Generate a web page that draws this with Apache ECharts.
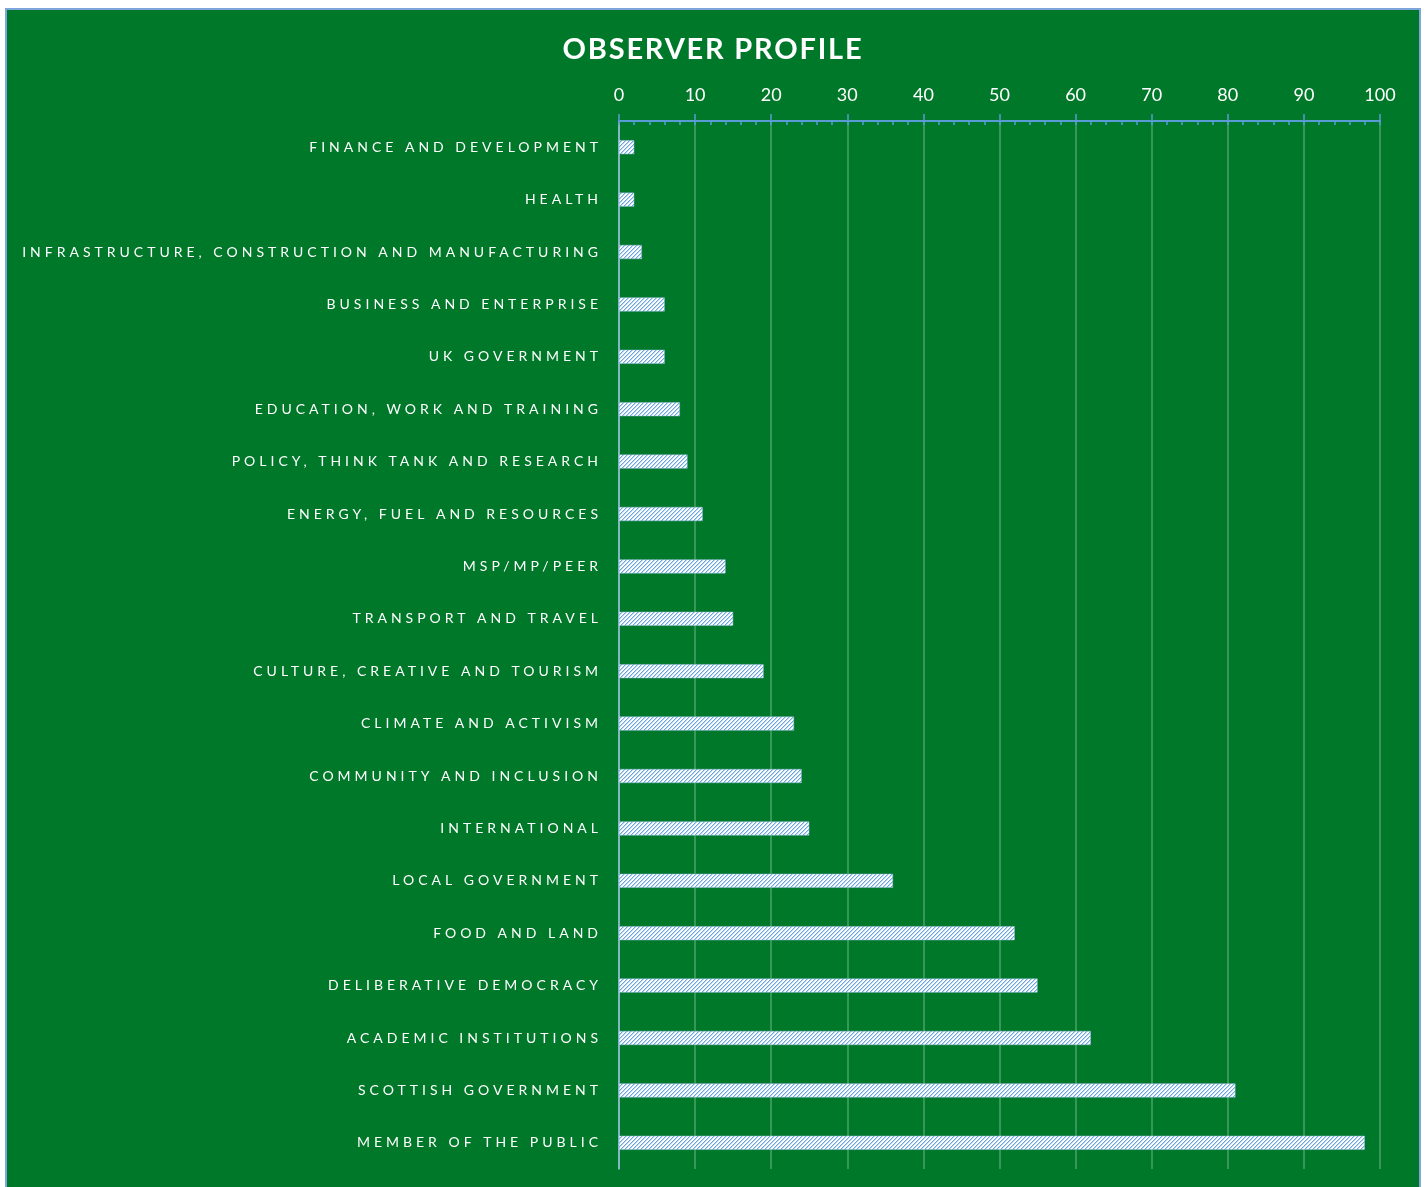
<!DOCTYPE html>
<html>
<head>
<meta charset="utf-8">
<script src="https://cdn.jsdelivr.net/npm/echarts@6/dist/echarts.min.js"></script>
<style>
  html, body { margin: 0; padding: 0; background: #ffffff; width: 1426px; height: 1187px; overflow: hidden; }
  #frame { position: absolute; left: 5px; top: 8px; width: 1412px; height: 1179px;
           border-left: 2px solid #7ea6dc; border-top: 2px solid #7ea6dc; border-right: 2px solid #7ea6dc; background: #00782a; }
  #chart { width: 1412px; height: 1177px; }
</style>
</head>
<body>
<div id="frame"><div id="chart"></div></div>
<script>
const titleText = 'OBSERVER PROFILE';
const categories = [
  'FINANCE AND DEVELOPMENT',
  'HEALTH',
  'INFRASTRUCTURE, CONSTRUCTION AND MANUFACTURING',
  'BUSINESS AND ENTERPRISE',
  'UK GOVERNMENT',
  'EDUCATION, WORK AND TRAINING',
  'POLICY, THINK TANK AND RESEARCH',
  'ENERGY, FUEL AND RESOURCES',
  'MSP/MP/PEER',
  'TRANSPORT AND TRAVEL',
  'CULTURE, CREATIVE AND TOURISM',
  'CLIMATE AND ACTIVISM',
  'COMMUNITY AND INCLUSION',
  'INTERNATIONAL',
  'LOCAL GOVERNMENT',
  'FOOD AND LAND',
  'DELIBERATIVE DEMOCRACY',
  'ACADEMIC INSTITUTIONS',
  'SCOTTISH GOVERNMENT',
  'MEMBER OF THE PUBLIC'
];
const values = [2, 2, 3, 6, 6, 8, 9, 11, 14, 15, 19, 23, 24, 25, 36, 52, 55, 62, 81, 98];
const axisMin = 0, axisMax = 100, axisStep = 10, minorStep = 2;

// letter-spaced labels (canvas letterSpacing; font re-assigned so Chrome applies it)
const spaced = new Set(categories);
const spacingFor = (t) => spaced.has(t) ? '4px' : (t === titleText ? '1.8px' : '0px');
const origFill = CanvasRenderingContext2D.prototype.fillText;
CanvasRenderingContext2D.prototype.fillText = function (t, x, y, w) {
  const f = this.font;
  const want = spacingFor(t);
  if (this.letterSpacing !== want) { this.letterSpacing = want; this.font = f; }
  if (w === undefined) origFill.call(this, t, x, y); else origFill.call(this, t, x, y, w);
  if (want !== '0px') { this.letterSpacing = '0px'; this.font = f; }
};

// hatch pattern (wide upward diagonal)
const pc = document.createElement('canvas');
pc.width = 8; pc.height = 8;
const px = pc.getContext('2d');
px.fillStyle = '#ffffff';
px.fillRect(0, 0, 8, 8);
for (let x = 0; x < 8; x++) {
  for (let y = 0; y < 8; y++) {
    const m = (x + y) % 4;
    if (m === 0) { px.fillStyle = '#6aa5e0'; px.fillRect(x, y, 1, 1); }
    else if (m === 1) { px.fillStyle = '#bcd7f2'; px.fillRect(x, y, 1, 1); }
  }
}

const FONT = 'Lato, "Open Sans", sans-serif';
const chart = echarts.init(document.getElementById('chart'), null, { renderer: 'canvas' });
chart.setOption({
  animation: false,
  backgroundColor: '#00782a',
  title: {
    text: titleText, left: 'center', top: 20,
    textStyle: { color: '#ffffff', fontSize: 29, fontWeight: 'bold', fontFamily: FONT }
  },
  grid: { left: 612, top: 111, width: 761, height: 1048, containLabel: false },
  xAxis: [{
    type: 'value', position: 'top', min: axisMin, max: axisMax, interval: axisStep,
    axisLine: { show: true, lineStyle: { color: '#5b9bd5', width: 2 } },
    axisTick: { show: true, length: 7, lineStyle: { color: '#5b9bd5', width: 1.5 } },
    axisLabel: { color: '#ffffff', fontSize: 18, fontFamily: FONT, margin: 17 },
    splitLine: { show: true, lineStyle: { color: 'rgba(255,255,255,0.3)', width: 1.5 } }
  }, {
    type: 'value', position: 'top', min: axisMin, max: axisMax, interval: minorStep,
    axisLine: { show: false },
    axisTick: { show: true, inside: true, length: 4, lineStyle: { color: '#5b9bd5', width: 1.5 } },
    axisLabel: { show: false },
    splitLine: { show: false }
  }],
  yAxis: {
    type: 'category', data: categories, inverse: true,
    axisLine: { show: true, lineStyle: { color: '#9dc3e6', width: 1.5 } },
    axisTick: { show: false },
    axisLabel: { color: '#ffffff', fontSize: 14, fontFamily: FONT, margin: 17, interval: 0 },
    splitLine: { show: false }
  },
  series: [{
    type: 'bar', xAxisIndex: 0, data: values, barWidth: 14,
    itemStyle: { color: { image: pc, repeat: 'repeat' }, borderColor: '#9dc3e6', borderWidth: 0.5 }
  }]
});
</script>
</body>
</html>
